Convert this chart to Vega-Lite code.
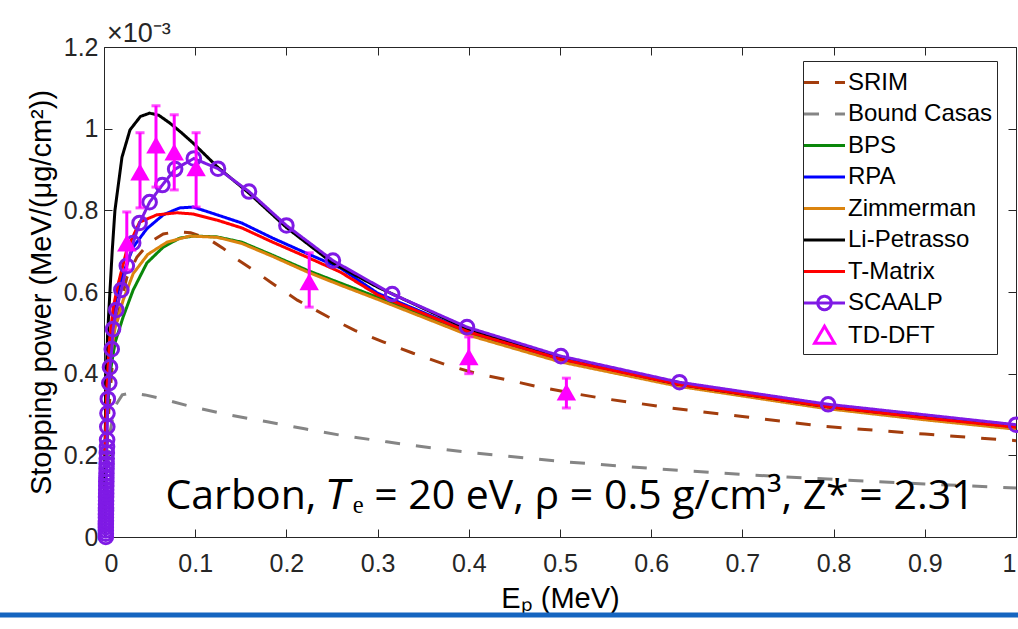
{
  "$schema": "https://vega.github.io/schema/vega-lite/v6.json",
  "width": 912,
  "height": 490,
  "autosize": {"type": "none"},
  "padding": {"left": 104, "top": 47, "right": 2, "bottom": 92},
  "background": "white",
  "config": {
    "view": {"stroke": null},
    "font": "Liberation Sans",
    "axis": {
      "domainColor": "#262626", "domainWidth": 1,
      "tickColor": "#262626", "tickWidth": 1, "tickSize": -8,
      "labelColor": "#262626", "labelFont": "Liberation Sans", "labelFontSize": 25,
      "titleColor": "#000000", "titleFont": "Liberation Sans", "titleFontWeight": "normal",
      "grid": false
    },
    "legend": {
      "orient": "none", "legendX": 699, "legendY": 14,
      "strokeColor": "#262626", "fillColor": "white", "padding": 4,
      "labelFont": "Liberation Sans", "labelFontSize": 24, "labelColor": "#000000",
      "symbolSize": 1024, "symbolStrokeWidth": 3, "symbolOpacity": 1,
      "rowPadding": 1.5, "labelOffset": 6, "labelLimit": 400
    }
  },
  "datasets": {
    "curves": [
      {"series": "SRIM", "E": 0.002, "S": 0.15}, {"series": "SRIM", "E": 0.005, "S": 0.30}, {"series": "SRIM", "E": 0.010, "S": 0.45}, {"series": "SRIM", "E": 0.016, "S": 0.55}, {"series": "SRIM", "E": 0.025, "S": 0.635}, {"series": "SRIM", "E": 0.036, "S": 0.685}, {"series": "SRIM", "E": 0.05, "S": 0.722}, {"series": "SRIM", "E": 0.065, "S": 0.742}, {"series": "SRIM", "E": 0.08, "S": 0.748}, {"series": "SRIM", "E": 0.095, "S": 0.745}, {"series": "SRIM", "E": 0.113, "S": 0.732}, {"series": "SRIM", "E": 0.13, "S": 0.708}, {"series": "SRIM", "E": 0.146, "S": 0.68}, {"series": "SRIM", "E": 0.165, "S": 0.652}, {"series": "SRIM", "E": 0.182, "S": 0.625}, {"series": "SRIM", "E": 0.212, "S": 0.58}, {"series": "SRIM", "E": 0.245, "S": 0.54}, {"series": "SRIM", "E": 0.275, "S": 0.506}, {"series": "SRIM", "E": 0.306, "S": 0.478}, {"series": "SRIM", "E": 0.339, "S": 0.45}, {"series": "SRIM", "E": 0.376, "S": 0.421}, {"series": "SRIM", "E": 0.409, "S": 0.40}, {"series": "SRIM", "E": 0.442, "S": 0.385}, {"series": "SRIM", "E": 0.476, "S": 0.368}, {"series": "SRIM", "E": 0.514, "S": 0.352}, {"series": "SRIM", "E": 0.551, "S": 0.338}, {"series": "SRIM", "E": 0.584, "S": 0.328}, {"series": "SRIM", "E": 0.62, "S": 0.316}, {"series": "SRIM", "E": 0.7, "S": 0.295}, {"series": "SRIM", "E": 0.79, "S": 0.271}, {"series": "SRIM", "E": 0.9, "S": 0.252}, {"series": "SRIM", "E": 1.0, "S": 0.236},
      {"series": "Bound Casas", "E": 0.002, "S": 0.10}, {"series": "Bound Casas", "E": 0.006, "S": 0.25}, {"series": "Bound Casas", "E": 0.012, "S": 0.32}, {"series": "Bound Casas", "E": 0.02, "S": 0.348}, {"series": "Bound Casas", "E": 0.03, "S": 0.353}, {"series": "Bound Casas", "E": 0.045, "S": 0.348}, {"series": "Bound Casas", "E": 0.061, "S": 0.34}, {"series": "Bound Casas", "E": 0.098, "S": 0.318}, {"series": "Bound Casas", "E": 0.135, "S": 0.30}, {"series": "Bound Casas", "E": 0.179, "S": 0.282}, {"series": "Bound Casas", "E": 0.22, "S": 0.265}, {"series": "Bound Casas", "E": 0.26, "S": 0.249}, {"series": "Bound Casas", "E": 0.31, "S": 0.233}, {"series": "Bound Casas", "E": 0.35, "S": 0.221}, {"series": "Bound Casas", "E": 0.4, "S": 0.207}, {"series": "Bound Casas", "E": 0.46, "S": 0.194}, {"series": "Bound Casas", "E": 0.5, "S": 0.185}, {"series": "Bound Casas", "E": 0.6, "S": 0.168}, {"series": "Bound Casas", "E": 0.7, "S": 0.153}, {"series": "Bound Casas", "E": 0.8, "S": 0.141}, {"series": "Bound Casas", "E": 0.9, "S": 0.13}, {"series": "Bound Casas", "E": 1.0, "S": 0.12},
      {"series": "BPS", "E": 0.001, "S": 0.15}, {"series": "BPS", "E": 0.003, "S": 0.28}, {"series": "BPS", "E": 0.0066, "S": 0.40}, {"series": "BPS", "E": 0.012, "S": 0.475}, {"series": "BPS", "E": 0.021, "S": 0.539}, {"series": "BPS", "E": 0.032, "S": 0.605}, {"series": "BPS", "E": 0.047, "S": 0.671}, {"series": "BPS", "E": 0.065, "S": 0.71}, {"series": "BPS", "E": 0.083, "S": 0.732}, {"series": "BPS", "E": 0.098, "S": 0.737}, {"series": "BPS", "E": 0.124, "S": 0.735}, {"series": "BPS", "E": 0.151, "S": 0.722}, {"series": "BPS", "E": 0.185, "S": 0.69}, {"series": "BPS", "E": 0.222, "S": 0.654}, {"series": "BPS", "E": 0.259, "S": 0.622}, {"series": "BPS", "E": 0.3, "S": 0.587}, {"series": "BPS", "E": 0.4, "S": 0.497}, {"series": "BPS", "E": 0.5, "S": 0.432}, {"series": "BPS", "E": 0.63, "S": 0.372}, {"series": "BPS", "E": 0.79, "S": 0.318}, {"series": "BPS", "E": 0.9, "S": 0.29}, {"series": "BPS", "E": 1.0, "S": 0.266},
      {"series": "RPA", "E": 0.001, "S": 0.18}, {"series": "RPA", "E": 0.003, "S": 0.34}, {"series": "RPA", "E": 0.006, "S": 0.45}, {"series": "RPA", "E": 0.012, "S": 0.573}, {"series": "RPA", "E": 0.021, "S": 0.645}, {"series": "RPA", "E": 0.032, "S": 0.71}, {"series": "RPA", "E": 0.047, "S": 0.755}, {"series": "RPA", "E": 0.065, "S": 0.789}, {"series": "RPA", "E": 0.083, "S": 0.806}, {"series": "RPA", "E": 0.098, "S": 0.808}, {"series": "RPA", "E": 0.124, "S": 0.789}, {"series": "RPA", "E": 0.151, "S": 0.769}, {"series": "RPA", "E": 0.185, "S": 0.732}, {"series": "RPA", "E": 0.222, "S": 0.695}, {"series": "RPA", "E": 0.259, "S": 0.659}, {"series": "RPA", "E": 0.3, "S": 0.597}, {"series": "RPA", "E": 0.4, "S": 0.503}, {"series": "RPA", "E": 0.5, "S": 0.436}, {"series": "RPA", "E": 0.63, "S": 0.374}, {"series": "RPA", "E": 0.79, "S": 0.319}, {"series": "RPA", "E": 0.9, "S": 0.291}, {"series": "RPA", "E": 1.0, "S": 0.268},
      {"series": "Zimmerman", "E": 0.001, "S": 0.17}, {"series": "Zimmerman", "E": 0.003, "S": 0.32}, {"series": "Zimmerman", "E": 0.007, "S": 0.44}, {"series": "Zimmerman", "E": 0.012, "S": 0.51}, {"series": "Zimmerman", "E": 0.021, "S": 0.58}, {"series": "Zimmerman", "E": 0.032, "S": 0.645}, {"series": "Zimmerman", "E": 0.048, "S": 0.692}, {"series": "Zimmerman", "E": 0.069, "S": 0.722}, {"series": "Zimmerman", "E": 0.094, "S": 0.737}, {"series": "Zimmerman", "E": 0.124, "S": 0.734}, {"series": "Zimmerman", "E": 0.151, "S": 0.719}, {"series": "Zimmerman", "E": 0.185, "S": 0.687}, {"series": "Zimmerman", "E": 0.222, "S": 0.65}, {"series": "Zimmerman", "E": 0.259, "S": 0.617}, {"series": "Zimmerman", "E": 0.3, "S": 0.582}, {"series": "Zimmerman", "E": 0.4, "S": 0.494}, {"series": "Zimmerman", "E": 0.5, "S": 0.429}, {"series": "Zimmerman", "E": 0.63, "S": 0.369}, {"series": "Zimmerman", "E": 0.79, "S": 0.315}, {"series": "Zimmerman", "E": 0.9, "S": 0.287}, {"series": "Zimmerman", "E": 1.0, "S": 0.264},
      {"series": "Li-Petrasso", "E": 0.0005, "S": 0.1}, {"series": "Li-Petrasso", "E": 0.001, "S": 0.2}, {"series": "Li-Petrasso", "E": 0.0022, "S": 0.377}, {"series": "Li-Petrasso", "E": 0.004, "S": 0.5}, {"series": "Li-Petrasso", "E": 0.0066, "S": 0.605}, {"series": "Li-Petrasso", "E": 0.009, "S": 0.7}, {"series": "Li-Petrasso", "E": 0.012, "S": 0.80}, {"series": "Li-Petrasso", "E": 0.0197, "S": 0.93}, {"series": "Li-Petrasso", "E": 0.0285, "S": 0.997}, {"series": "Li-Petrasso", "E": 0.04, "S": 1.03}, {"series": "Li-Petrasso", "E": 0.05, "S": 1.038}, {"series": "Li-Petrasso", "E": 0.06, "S": 1.033}, {"series": "Li-Petrasso", "E": 0.072, "S": 1.014}, {"series": "Li-Petrasso", "E": 0.085, "S": 0.99}, {"series": "Li-Petrasso", "E": 0.0976, "S": 0.965}, {"series": "Li-Petrasso", "E": 0.125, "S": 0.905}, {"series": "Li-Petrasso", "E": 0.159, "S": 0.842}, {"series": "Li-Petrasso", "E": 0.2, "S": 0.758}, {"series": "Li-Petrasso", "E": 0.25, "S": 0.672}, {"series": "Li-Petrasso", "E": 0.3, "S": 0.612}, {"series": "Li-Petrasso", "E": 0.4, "S": 0.508}, {"series": "Li-Petrasso", "E": 0.5, "S": 0.438}, {"series": "Li-Petrasso", "E": 0.63, "S": 0.374}, {"series": "Li-Petrasso", "E": 0.79, "S": 0.32}, {"series": "Li-Petrasso", "E": 0.9, "S": 0.293}, {"series": "Li-Petrasso", "E": 1.0, "S": 0.27},
      {"series": "T-Matrix", "E": 0.001, "S": 0.2}, {"series": "T-Matrix", "E": 0.003, "S": 0.36}, {"series": "T-Matrix", "E": 0.006, "S": 0.48}, {"series": "T-Matrix", "E": 0.01, "S": 0.56}, {"series": "T-Matrix", "E": 0.015, "S": 0.615}, {"series": "T-Matrix", "E": 0.025, "S": 0.703}, {"series": "T-Matrix", "E": 0.039, "S": 0.771}, {"series": "T-Matrix", "E": 0.058, "S": 0.789}, {"series": "T-Matrix", "E": 0.08, "S": 0.794}, {"series": "T-Matrix", "E": 0.098, "S": 0.791}, {"series": "T-Matrix", "E": 0.124, "S": 0.776}, {"series": "T-Matrix", "E": 0.151, "S": 0.757}, {"series": "T-Matrix", "E": 0.185, "S": 0.722}, {"series": "T-Matrix", "E": 0.222, "S": 0.686}, {"series": "T-Matrix", "E": 0.259, "S": 0.649}, {"series": "T-Matrix", "E": 0.3, "S": 0.593}, {"series": "T-Matrix", "E": 0.4, "S": 0.502}, {"series": "T-Matrix", "E": 0.5, "S": 0.436}, {"series": "T-Matrix", "E": 0.63, "S": 0.374}, {"series": "T-Matrix", "E": 0.79, "S": 0.32}, {"series": "T-Matrix", "E": 0.9, "S": 0.292}, {"series": "T-Matrix", "E": 1.0, "S": 0.269},
      {"series": "SCAALP", "E": 0.002, "S": 0.0}, {"series": "SCAALP", "E": 0.002, "S": 0.008}, {"series": "SCAALP", "E": 0.002, "S": 0.016}, {"series": "SCAALP", "E": 0.002, "S": 0.024}, {"series": "SCAALP", "E": 0.002, "S": 0.032}, {"series": "SCAALP", "E": 0.0021, "S": 0.04}, {"series": "SCAALP", "E": 0.0021, "S": 0.048}, {"series": "SCAALP", "E": 0.0021, "S": 0.056}, {"series": "SCAALP", "E": 0.0022, "S": 0.064}, {"series": "SCAALP", "E": 0.0022, "S": 0.072}, {"series": "SCAALP", "E": 0.0022, "S": 0.08}, {"series": "SCAALP", "E": 0.0023, "S": 0.089}, {"series": "SCAALP", "E": 0.0023, "S": 0.098}, {"series": "SCAALP", "E": 0.0024, "S": 0.107}, {"series": "SCAALP", "E": 0.0024, "S": 0.116}, {"series": "SCAALP", "E": 0.0025, "S": 0.125}, {"series": "SCAALP", "E": 0.0025, "S": 0.135}, {"series": "SCAALP", "E": 0.0026, "S": 0.145}, {"series": "SCAALP", "E": 0.0027, "S": 0.156}, {"series": "SCAALP", "E": 0.0028, "S": 0.167}, {"series": "SCAALP", "E": 0.0029, "S": 0.179}, {"series": "SCAALP", "E": 0.003, "S": 0.192}, {"series": "SCAALP", "E": 0.0031, "S": 0.206}, {"series": "SCAALP", "E": 0.0033, "S": 0.221}, {"series": "SCAALP", "E": 0.0034, "S": 0.238}, {"series": "SCAALP", "E": 0.0036, "S": 0.27}, {"series": "SCAALP", "E": 0.0038, "S": 0.303}, {"series": "SCAALP", "E": 0.0042, "S": 0.338}, {"series": "SCAALP", "E": 0.0058, "S": 0.377}, {"series": "SCAALP", "E": 0.0066, "S": 0.416}, {"series": "SCAALP", "E": 0.0085, "S": 0.46}, {"series": "SCAALP", "E": 0.0099, "S": 0.509}, {"series": "SCAALP", "E": 0.0135, "S": 0.556}, {"series": "SCAALP", "E": 0.019, "S": 0.605}, {"series": "SCAALP", "E": 0.025, "S": 0.664}, {"series": "SCAALP", "E": 0.032, "S": 0.72}, {"series": "SCAALP", "E": 0.039, "S": 0.769}, {"series": "SCAALP", "E": 0.05, "S": 0.82}, {"series": "SCAALP", "E": 0.064, "S": 0.862}, {"series": "SCAALP", "E": 0.078, "S": 0.901}, {"series": "SCAALP", "E": 0.0985, "S": 0.927}, {"series": "SCAALP", "E": 0.125, "S": 0.902}, {"series": "SCAALP", "E": 0.159, "S": 0.846}, {"series": "SCAALP", "E": 0.20, "S": 0.763}, {"series": "SCAALP", "E": 0.251, "S": 0.677}, {"series": "SCAALP", "E": 0.316, "S": 0.595}, {"series": "SCAALP", "E": 0.398, "S": 0.514}, {"series": "SCAALP", "E": 0.501, "S": 0.443}, {"series": "SCAALP", "E": 0.631, "S": 0.379}, {"series": "SCAALP", "E": 0.794, "S": 0.325}, {"series": "SCAALP", "E": 1.0, "S": 0.275}
    ],
    "tddft": [
      {"series": "TD-DFT", "E": 0.025, "S": 0.72, "lo": 0.654, "hi": 0.796},
      {"series": "TD-DFT", "E": 0.0395, "S": 0.894, "lo": 0.806, "hi": 0.99},
      {"series": "TD-DFT", "E": 0.057, "S": 0.96, "lo": 0.857, "hi": 1.056},
      {"series": "TD-DFT", "E": 0.077, "S": 0.943, "lo": 0.85, "hi": 1.034},
      {"series": "TD-DFT", "E": 0.101, "S": 0.904, "lo": 0.808, "hi": 0.99},
      {"series": "TD-DFT", "E": 0.225, "S": 0.625, "lo": 0.563, "hi": 0.696},
      {"series": "TD-DFT", "E": 0.40, "S": 0.441, "lo": 0.40, "hi": 0.49},
      {"series": "TD-DFT", "E": 0.507, "S": 0.355, "lo": 0.316, "hi": 0.389}
    ]
  },
  "resolve": {"axis": {"x": "independent", "y": "independent"}},
  "layer": [
    {
      "data": {"name": "curves"},
      "mark": {"type": "line", "strokeWidth": 3},
      "encoding": {
        "x": {"field": "E", "type": "quantitative",
              "scale": {"domain": [0, 1], "nice": false, "zero": false},
              "axis": {"values": [0, 0.1, 0.2, 0.3, 0.4, 0.5, 0.6, 0.7, 0.8, 0.9, 1], "format": "~g",
                       "title": "Eₚ (MeV)", "titleFontSize": 29, "labelPadding": 22, "titlePadding": 8}},
        "y": {"field": "S", "type": "quantitative",
              "scale": {"domain": [0, 1.2], "nice": false, "zero": false},
              "axis": {"values": [0, 0.2, 0.4, 0.6, 0.8, 1, 1.2], "format": "~g",
                       "title": "Stopping power (MeV/(μg/cm²))", "titleFontSize": 29, "labelPadding": 14, "titlePadding": 7}},
        "color": {"field": "series", "type": "nominal", "title": null,
                  "scale": {"domain": ["SRIM", "Bound Casas", "BPS", "RPA", "Zimmerman", "Li-Petrasso", "T-Matrix", "SCAALP", "TD-DFT"],
                            "range": ["#A33D0D", "#858585", "#0A870A", "#0000FF", "#DB840F", "#000000", "#FF0000", "#7F1AE5", "#FF00FF"]}},
        "strokeDash": {"field": "series", "type": "nominal", "title": null,
                  "scale": {"domain": ["SRIM", "Bound Casas", "BPS", "RPA", "Zimmerman", "Li-Petrasso", "T-Matrix", "SCAALP", "TD-DFT"],
                            "range": [[15, 16], [15, 16], [1, 0], [1, 0], [1, 0], [1, 0], [1, 0], [1, 0], [1, 0]]}}
      }
    },
    {
      "data": {"name": "curves"},
      "transform": [{"filter": "datum.series === 'SCAALP'"}],
      "mark": {"type": "point", "shape": "circle", "size": 185, "strokeWidth": 3, "color": "#7F1AE5", "filled": false, "opacity": 1},
      "encoding": {
        "x": {"field": "E", "type": "quantitative", "axis": null},
        "y": {"field": "S", "type": "quantitative", "axis": null}
      }
    },
    {
      "data": {"name": "tddft"},
      "mark": {"type": "rule", "strokeWidth": 3, "color": "#FF00FF"},
      "encoding": {
        "x": {"field": "E", "type": "quantitative", "axis": null},
        "y": {"field": "lo", "type": "quantitative", "axis": null},
        "y2": {"field": "hi"}
      }
    },
    {
      "data": {"name": "tddft"},
      "mark": {"type": "tick", "orient": "horizontal", "size": 9, "thickness": 3, "color": "#FF00FF"},
      "encoding": {
        "x": {"field": "E", "type": "quantitative", "axis": null},
        "y": {"field": "lo", "type": "quantitative", "axis": null}
      }
    },
    {
      "data": {"name": "tddft"},
      "mark": {"type": "tick", "orient": "horizontal", "size": 9, "thickness": 3, "color": "#FF00FF"},
      "encoding": {
        "x": {"field": "E", "type": "quantitative", "axis": null},
        "y": {"field": "hi", "type": "quantitative", "axis": null}
      }
    },
    {
      "data": {"name": "tddft"},
      "mark": {"type": "point", "shape": "triangle-up", "size": 380, "strokeWidth": 3, "color": "#FF00FF", "filled": true, "opacity": 1},
      "encoding": {
        "x": {"field": "E", "type": "quantitative", "axis": null},
        "y": {"field": "S", "type": "quantitative", "axis": null}
      }
    },
    {
      "data": {"name": "tddft"},
      "mark": {"type": "point", "opacity": 0},
      "encoding": {
        "x": {"field": "E", "type": "quantitative",
              "axis": {"orient": "top", "values": [0, 0.1, 0.2, 0.3, 0.4, 0.5, 0.6, 0.7, 0.8, 0.9, 1], "labels": false, "title": null}},
        "y": {"field": "S", "type": "quantitative",
              "axis": {"orient": "right", "values": [0, 0.2, 0.4, 0.6, 0.8, 1, 1.2], "labels": false, "title": null}},
        "shape": {"field": "series", "type": "nominal", "title": null,
                  "scale": {"domain": ["SRIM", "Bound Casas", "BPS", "RPA", "Zimmerman", "Li-Petrasso", "T-Matrix", "SCAALP", "TD-DFT"],
                            "range": ["M-1.28,0H1.28", "M-1.28,0H1.28", "M-1.28,0H1.28", "M-1.28,0H1.28", "M-1.28,0H1.28", "M-1.28,0H1.28", "M-1.28,0H1.28",
                                      "M-1.28,0H1.28M0.42,0A0.42,0.42 0 1 1 -0.42,0A0.42,0.42 0 1 1 0.42,0",
                                      "M0,-0.58L0.62,0.48L-0.62,0.48Z"]}}
      }
    },
    {
      "data": {"values": [{}]},
      "mark": {"type": "text", "font": "Open Sans", "fontSize": 41, "align": "center", "baseline": "middle", "color": "#000000"},
      "encoding": {
        "x": {"datum": 0.511, "type": "quantitative", "axis": null},
        "y": {"datum": 0.098, "type": "quantitative", "axis": null},
        "text": {"value": "Carbon, 𝑇ₑ = 20 eV, ρ = 0.5 g/cm³, Z* = 2.31"}
      }
    },
    {
      "data": {"values": [{}]},
      "mark": {"type": "text", "font": "Liberation Sans", "fontSize": 27, "align": "left", "baseline": "alphabetic", "dx": 3, "dy": -5, "color": "#262626"},
      "encoding": {
        "x": {"datum": 0, "type": "quantitative", "axis": null},
        "y": {"datum": 1.2, "type": "quantitative", "axis": null},
        "text": {"value": "×10⁻³"}
      }
    },
    {
      "data": {"values": [{}]},
      "mark": {"type": "rule", "strokeWidth": 5, "color": "#1565C0"},
      "encoding": {
        "x": {"datum": -0.115, "type": "quantitative", "axis": null},
        "x2": {"datum": 1.003},
        "y": {"datum": -0.191, "type": "quantitative", "axis": null}
      }
    }
  ]
}
